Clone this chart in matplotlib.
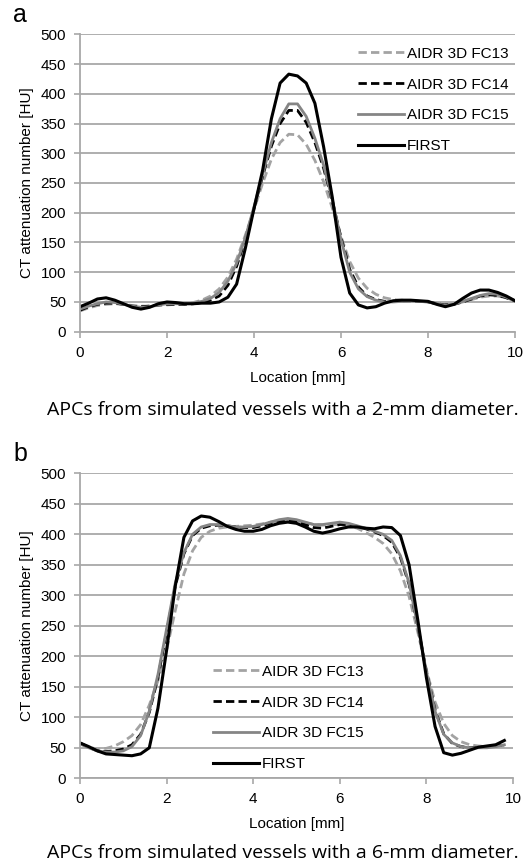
import matplotlib
matplotlib.use('Agg')
import matplotlib.pyplot as plt

plt.rcParams['font.family'] = ['Liberation Sans', 'DejaVu Sans']

# sampling positions [mm]
loc_a = [0.0, 0.2, 0.4, 0.6, 0.8, 1.0, 1.2, 1.4, 1.6, 1.8, 2.0, 2.2, 2.4, 2.6, 2.8,
         3.0, 3.2, 3.4, 3.6, 3.8, 4.0, 4.2, 4.4, 4.6, 4.8, 5.0, 5.2, 5.4, 5.6, 5.8,
         6.0, 6.2, 6.4, 6.6, 6.8, 7.0, 7.2, 7.4, 7.6, 7.8, 8.0, 8.2, 8.4, 8.6, 8.8,
         9.0, 9.2, 9.4, 9.6, 9.8, 10.0]
loc_b = loc_a[:-1]

# panel a: 2-mm vessel
fc13_a = [35, 40, 44, 46, 47, 46, 44, 43, 43, 44, 45, 46, 47, 49, 53, 60, 72, 92, 122, 162,
          205, 250, 290, 318, 332, 331, 315, 288, 252, 208, 160, 118, 90, 73, 63, 57, 54,
          53, 52, 51, 50, 48, 46, 47, 50, 54, 58, 60, 60, 57, 52]
fc14_a = [36, 42, 46, 48, 48, 46, 43, 42, 43, 45, 46, 46, 46, 47, 49, 53, 60, 78, 110, 155,
          207, 262, 312, 350, 372, 372, 352, 318, 275, 220, 158, 105, 75, 60, 54, 51, 51,
          52, 52, 51, 50, 47, 45, 46, 50, 55, 60, 62, 61, 57, 52]
fc15_a = [38, 43, 47, 50, 49, 46, 43, 41, 42, 45, 47, 47, 47, 48, 51, 56, 66, 85, 115, 158,
          210, 265, 318, 358, 383, 383, 362, 325, 280, 222, 155, 100, 72, 59, 53, 50, 50,
          51, 52, 51, 50, 47, 44, 46, 51, 56, 61, 64, 63, 58, 52]
first_a = [42, 48, 55, 57, 53, 47, 41, 38, 41, 47, 50, 49, 47, 47, 48, 48, 50, 58, 80, 140,
           207, 272, 358, 418, 433, 430, 418, 384, 311, 226, 125, 65, 45, 40, 42, 48, 52,
           53, 53, 52, 51, 46, 42, 46, 56, 65, 70, 70, 66, 60, 52]

# panel b: 6-mm vessel
fc13_b = [56, 51, 48, 49, 53, 60, 70, 88, 120, 160, 210, 275, 335, 373, 395, 405, 410, 412,
          413, 414, 415, 417, 420, 422, 423, 422, 419, 416, 415, 416, 416, 414, 410, 403,
          395, 385, 368, 340, 298, 240, 178, 125, 90, 70, 60, 55, 53, 52, 52, 53]
fc14_b = [58, 51, 45, 44, 45, 48, 55, 72, 108, 165, 240, 315, 368, 398, 410, 414, 415, 414,
          412, 411, 411, 414, 418, 421, 423, 421, 416, 411, 410, 413, 416, 416, 413, 409,
          404, 398, 387, 362, 318, 250, 175, 112, 73, 57, 52, 50, 51, 52, 53, 55]
fc15_b = [57, 50, 45, 43, 43, 45, 52, 70, 110, 170, 245, 320, 370, 400, 412, 416, 416, 414,
          412, 412, 413, 416, 420, 424, 426, 424, 420, 416, 416, 418, 420, 418, 414, 410,
          405, 400, 390, 365, 320, 250, 175, 110, 72, 58, 52, 50, 50, 50, 52, 55]
first_b = [58, 52, 45, 40, 39, 38, 37, 40, 50, 115, 210, 315, 395, 422, 430, 428, 421, 413,
           408, 405, 405, 408, 414, 418, 420, 418, 412, 405, 402, 405, 409, 412, 412, 410,
           409, 412, 411, 398, 350, 260, 165, 85, 42, 38, 41, 46, 51, 53, 55, 62]

labels = ['AIDR 3D FC13', 'AIDR 3D FC14', 'AIDR 3D FC15', 'FIRST']
W, H = 523, 868

fig = plt.figure(figsize=(W / 100, H / 100), dpi=100)


def draw(rect, x, series, legend_anchor):
    ax = fig.add_axes(rect)
    styles = [dict(color='#a3a3a3', ls=(0, (3, 1.5)), lw=2.0),
              dict(color='black', ls=(0, (3, 1.5)), lw=2.0),
              dict(color='#858585', ls='-', lw=2.0),
              dict(color='black', ls='-', lw=2.2)]
    for ys, lab, st in zip(series, labels, styles):
        ax.plot(x, ys, label=lab, **st)
    ax.set_xlim(0, 10)
    ax.set_ylim(0, 500)
    ax.set_xticks([0, 2, 4, 6, 8, 10])
    ax.set_yticks(range(0, 501, 50))
    ax.yaxis.grid(True, color='#a8a8a8', lw=1.3)
    ax.set_axisbelow(True)
    for s in ['top', 'right']:
        ax.spines[s].set_visible(False)
    for s in ['left', 'bottom']:
        ax.spines[s].set_color('#a8a8a8')
        ax.spines[s].set_linewidth(1.3)
    ax.tick_params(length=4, width=1.2, color='#a8a8a8', labelsize=11,
                   labelcolor='black', pad=6)
    ax.set_xlabel('Location [mm]', fontsize=11, labelpad=8)
    ax.set_ylabel('CT attenuation number [HU]', fontsize=11, labelpad=5)
    ax.legend(loc='upper left', bbox_to_anchor=legend_anchor, frameon=False,
              fontsize=11, handlelength=3.0, handletextpad=0.2,
              labelspacing=1.1, borderpad=0, borderaxespad=0)
    return ax


draw([80 / W, 1 - 331.7 / H, 435 / W, 297.4 / H], loc_a,
     [fc13_a, fc14_a, fc15_a, first_a], (0.639, 0.958))
draw([80 / W, 1 - 778.3 / H, 433 / W, 305 / H], loc_b,
     [fc13_b, fc14_b, fc15_b, first_b], (0.307, 0.372))

fig.text(13 / W, 1 - 15 / H, 'a', fontsize=18, va='center', ha='left')
fig.text(13 / W, 1 - 454 / H, 'b', fontsize=18, va='center', ha='left')
fig.text(283 / W, 1 - 410 / H, 'APCs from simulated vessels with a 2-mm diameter.',
         fontsize=14, family='Open Sans', ha='center', va='center')
fig.text(283 / W, 1 - 853 / H, 'APCs from simulated vessels with a 6-mm diameter.',
         fontsize=14, family='Open Sans', ha='center', va='center')

fig.savefig('out.png', dpi=100)
